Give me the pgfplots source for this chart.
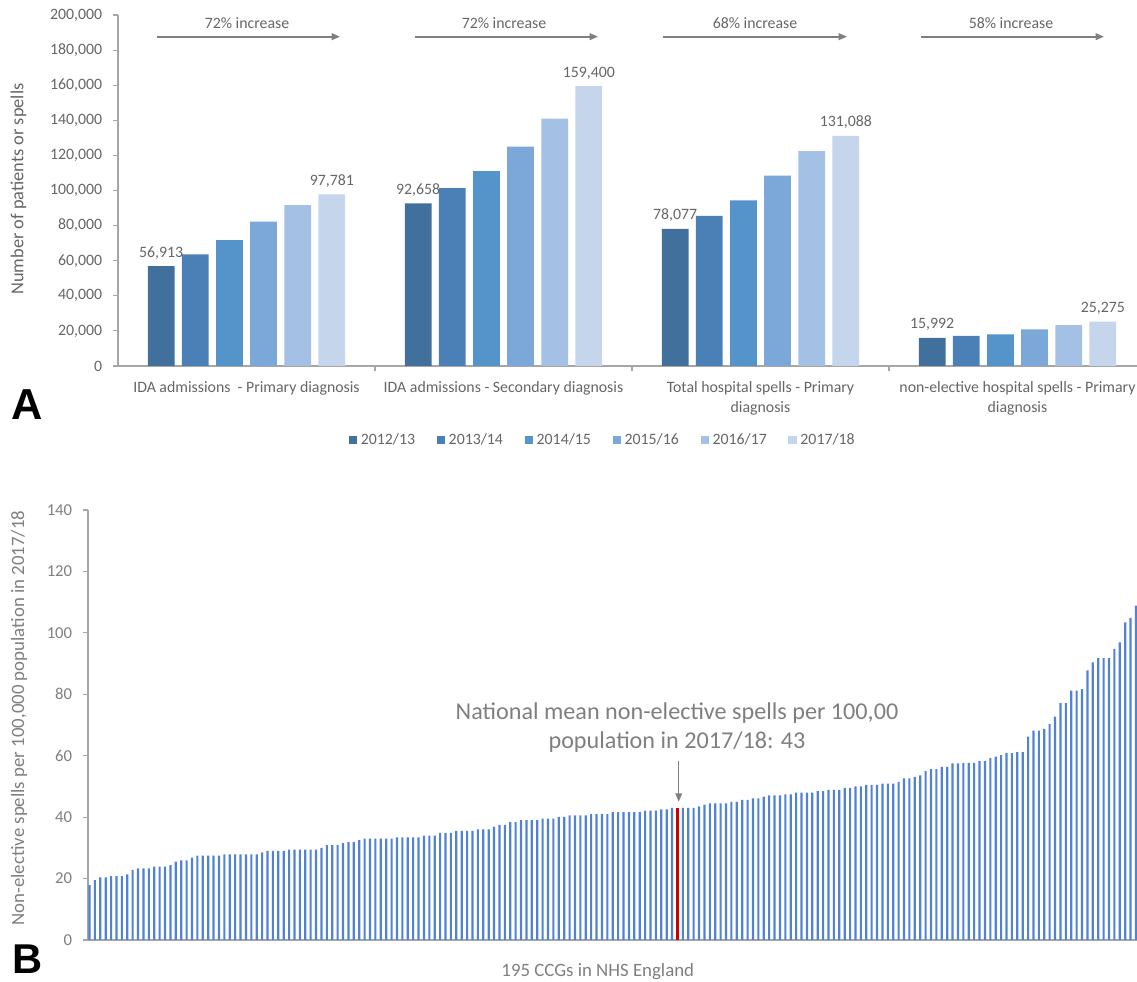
\documentclass[border=0pt]{standalone}
\usepackage{fontspec}
\setmainfont{Carlito}
\newfontfamily\arialfont{Liberation Sans}
\usepackage{pgfplots}
\pgfplotsset{compat=1.18}
\usetikzlibrary{arrows.meta}

\definecolor{c1}{HTML}{41709C}
\definecolor{c2}{HTML}{4A80B6}
\definecolor{c3}{HTML}{5593CB}
\definecolor{c4}{HTML}{7BA7D9}
\definecolor{c5}{HTML}{A4C0E4}
\definecolor{c6}{HTML}{C5D6EC}
\definecolor{barB}{HTML}{5283D2}
\definecolor{barR}{HTML}{D00000}
\definecolor{axisgray}{HTML}{A6A6A6}
\definecolor{textA}{HTML}{666666}
\definecolor{textB}{HTML}{7F7F7F}

\pgfplotsset{sqlegend/.style={legend image code/.code={\draw[##1,draw=none] (0pt,-2.6pt) rectangle (5.2pt,2.6pt);}}}

\begin{document}
\begin{tikzpicture}[x=0.6pt,y=0.6pt]
\useasboundingbox (0,0) rectangle (1137,982);

% ---- panel A: counts by year
\begin{axis}[
  at={(70.8pt,369.6pt)}, anchor=south west,
  scale only axis, width=611.4pt, height=210.6pt,
  xmin=-0.5, xmax=3.465, ymin=0, ymax=200000,
  axis x line=bottom, axis y line=left,
  axis line style={draw=axisgray, line width=0.7pt, -},
  ybar, bar width=0.104,
  ytick={0,20000,...,200000},
  scaled y ticks=false,
  /pgf/number format/fixed,
  /pgf/number format/precision=0,
  /pgf/number format/1000 sep={,},
  /pgf/number format/assume math mode=true,
  tick align=outside, major tick length=3pt,
  ytick style={draw=axisgray, line width=0.7pt},
  yticklabel style={font=\fontsize{9.5}{11}\selectfont, text=textA, xshift=-3pt},
  xtick={0,1,2,3},
  xticklabels={{IDA admissions\ \ - Primary diagnosis},{IDA admissions - Secondary diagnosis},{Total hospital spells - Primary\\diagnosis},{non-elective hospital spells - Primary\\diagnosis}},
  x tick style={draw=none},
  xticklabel style={font=\fontsize{9.5}{12}\selectfont, text=textA, align=center, yshift=-2.5pt},
  extra x ticks={0.5,1.5,2.5},
  extra x tick labels={},
  extra x tick style={x tick style={draw=axisgray, line width=0.7pt}},
  ylabel={Number of patients or spells},
  ylabel style={at={(axis description cs:-0.0976,0.504)}, anchor=center, font=\fontsize{11}{13}\selectfont, text=textA},
  every node near coord/.append style={font=\fontsize{9.5}{11}\selectfont, text=textA, inner sep=4pt},
  legend style={at={(0.4764,-0.211)}, anchor=center, draw=none, fill=none,
    font=\fontsize{9.5}{11}\selectfont, text=textA, legend columns=6,
    /tikz/every even column/.append style={column sep=11pt}},
]
\addplot[fill=c1, draw=none, bar shift=-0.332, sqlegend, nodes near coords] coordinates {(0,56913) (1,92658) (2,78077) (3,15992)};
\addplot[fill=c2, draw=none, bar shift=-0.199, sqlegend] coordinates {(0,63600) (1,101300) (2,85600) (3,17100)};
\addplot[fill=c3, draw=none, bar shift=-0.066, sqlegend] coordinates {(0,71700) (1,111000) (2,94300) (3,18000)};
\addplot[fill=c4, draw=none, bar shift=0.066, sqlegend] coordinates {(0,82200) (1,125000) (2,108500) (3,20900)};
\addplot[fill=c5, draw=none, bar shift=0.199, sqlegend] coordinates {(0,91600) (1,141000) (2,122400) (3,23300)};
\addplot[fill=c6, draw=none, bar shift=0.332, sqlegend, nodes near coords] coordinates {(0,97781) (1,159400) (2,131088) (3,25275)};
\legend{2012/13,2013/14,2014/15,2015/16,2016/17,2017/18}
\end{axis}

% increase arrows above the groups
\foreach \a/\b/\c/\t in {157/340/247/72, 415/598/504/72, 663/847/755/68, 921/1104/1011/58}{
  \draw[-{Triangle[length=5pt,width=4pt]}, draw=textB, fill=textB, line width=1pt] (\a,945.3) -- (\b,945.3);
  \node[anchor=base, font=\fontsize{9.5}{11}\selectfont, text=textA] at (\c,953.7) {\t\% increase};
}
\node[anchor=base west, inner sep=0pt, font=\arialfont\bfseries\fontsize{26}{26}\selectfont] at (11.5,562.7) {A};

% ---- panel B: spells per CCG
\begin{axis}[
  at={(52.8pt,25.2pt)}, anchor=south west,
  scale only axis, width=629.4pt, height=258pt,
  xmin=0.72, xmax=195.19, ymin=0, ymax=140,
  axis x line=bottom, axis y line=left,
  axis line style={draw=axisgray, line width=0.8pt, -},
  xtick=\empty, ytick={0,20,...,140},
  tick align=outside, major tick length=3pt,
  ytick style={draw=axisgray, line width=0.7pt},
  /pgf/number format/assume math mode=true,
  yticklabel style={font=\fontsize{10}{12}\selectfont, text=textB, xshift=-3pt},
  ylabel={Non-elective spells per 100,000 population in 2017/18},
  ylabel style={at={(axis description cs:-0.0658,0.516)}, anchor=center, font=\fontsize{11.3}{13}\selectfont, text=textB},
  xlabel={195 CCGs in NHS England},
  xlabel style={at={(axis description cs:0.486,-0.0737)}, anchor=center, font=\fontsize{11.3}{13}\selectfont, text=textB},
  ybar, bar width=0.4,
]
\addplot[fill=barB, draw=none, bar shift=0] coordinates {
(1,17.9)(2,19.5)(3,20.4)(4,20.4)(5,20.8)(6,20.8)(7,20.8)(8,21.4)(9,22.8)(10,23.3)
(11,23.3)(12,23.3)(13,23.9)(14,23.9)(15,23.9)(16,24.4)(17,25.5)(18,25.9)(19,25.9)(20,26.8)
(21,27.5)(22,27.5)(23,27.5)(24,27.5)(25,27.5)(26,27.9)(27,27.9)(28,27.9)(29,27.9)(30,27.9)
(31,27.9)(32,27.9)(33,28.5)(34,29.0)(35,29.0)(36,29.0)(37,29.0)(38,29.4)(39,29.4)(40,29.4)
(41,29.4)(42,29.4)(43,29.4)(44,30.0)(45,30.9)(46,30.9)(47,30.9)(48,31.5)(49,31.9)(50,31.9)
(51,32.5)(52,33.0)(53,33.0)(54,33.0)(55,33.0)(56,33.0)(57,33.0)(58,33.4)(59,33.4)(60,33.4)
(61,33.4)(62,33.4)(63,34.0)(64,34.0)(65,34.0)(66,34.9)(67,34.9)(68,34.9)(69,35.5)(70,35.5)
(71,35.5)(72,35.5)(73,36.0)(74,36.0)(75,36.0)(76,36.9)(77,37.5)(78,37.5)(79,38.4)(80,38.4)
(81,39.0)(82,39.0)(83,39.0)(84,39.0)(85,39.5)(86,39.5)(87,39.5)(88,40.1)(89,40.1)(90,40.6)
(91,40.6)(92,40.6)(93,40.6)(94,41.0)(95,41.0)(96,41.0)(97,41.0)(98,41.6)(99,41.6)(100,41.6)
(101,41.6)(102,41.6)(103,41.6)(104,42.1)(105,42.1)(106,42.1)(107,42.5)(108,42.5)(109,43.0)
(111,43.0)(112,43.0)(113,43.0)(114,43.5)(115,44.1)(116,44.5)(117,44.5)(118,44.5)(119,44.5)(120,45.0)
(121,45.0)(122,45.6)(123,45.6)(124,46.1)(125,46.1)(126,46.7)(127,47.1)(128,47.1)(129,47.1)(130,47.4)
(131,47.4)(132,48.0)(133,48.0)(134,48.0)(135,48.0)(136,48.5)(137,48.5)(138,48.9)(139,48.9)(140,48.9)
(141,49.5)(142,49.5)(143,50.0)(144,50.0)(145,50.5)(146,50.5)(147,50.5)(148,50.9)(149,50.9)(150,50.9)
(151,51.5)(152,52.6)(153,52.6)(154,53.1)(155,53.6)(156,55.1)(157,55.6)(158,55.6)(159,56.4)(160,56.4)
(161,57.5)(162,57.5)(163,57.7)(164,57.7)(165,57.7)(166,58.2)(167,58.2)(168,59.2)(169,59.7)(170,60.2)
(171,60.8)(172,60.8)(173,61.2)(174,61.2)(175,66.2)(176,68.2)(177,68.2)(178,68.7)(179,70.3)(180,72.7)
(181,77.1)(182,77.1)(183,81.2)(184,81.2)(185,81.7)(186,87.8)(187,90.4)(188,91.8)(189,91.8)(190,91.8)
(191,94.8)(192,96.9)(193,103.4)(194,104.9)(195,108.9)};
% the CCG at the national mean
\addplot[fill=barR, draw=none, bar shift=0] coordinates {(110,43.0)};
\end{axis}

\draw[-{Triangle[length=5pt,width=4pt]}, draw=textB, fill=textB, line width=0.8pt] (678.7,221.3) -- (678.7,180.3);
\node[anchor=base, font=\fontsize{14.5}{17}\selectfont, text=textB] at (677,262.7) {National mean non-elective spells per 100,00};
\node[anchor=base, font=\fontsize{14.5}{17}\selectfont, text=textB] at (677,233.7) {population in 2017/18: 43};
\node[anchor=base west, inner sep=0pt, font=\arialfont\bfseries\fontsize{25}{25}\selectfont] at (12.5,8) {B};
\end{tikzpicture}
\end{document}
